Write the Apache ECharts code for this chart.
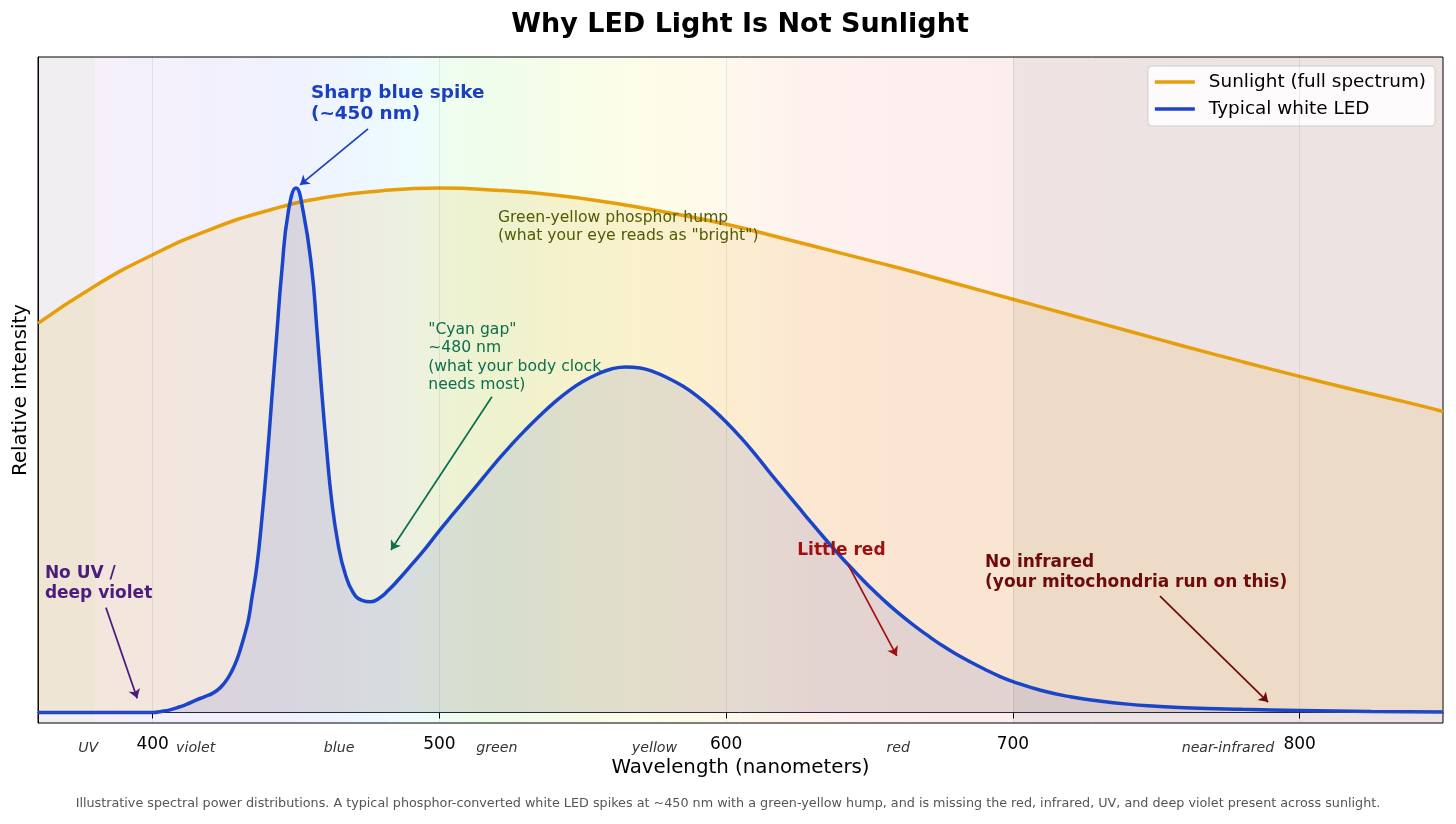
<!DOCTYPE html>
<html>
<head>
<meta charset="utf-8">
<title>Why LED Light Is Not Sunlight</title>
<script src="https://cdn.jsdelivr.net/npm/echarts@6/dist/echarts.min.js"></script>
<style>
  html, body { margin: 0; padding: 0; background: #fff; }
  #main { width: 1456px; height: 824px; }
</style>
</head>
<body>
<div id="main"></div>
<script>
// Values (wavelength in nm, relative intensity)
var sunWavelengths = [360, 380, 400, 420, 440, 460, 480, 500, 520, 540, 560, 580, 600,
  620, 640, 660, 680, 700, 720, 740, 760, 780, 800, 820, 840, 850];
var sunIntensity = [0.742, 0.814, 0.873, 0.921, 0.957, 0.982, 0.995, 1.0, 0.996, 0.987, 0.972,
  0.953, 0.931, 0.904, 0.876, 0.848, 0.818, 0.788, 0.758, 0.728, 0.698, 0.669, 0.641, 0.614,
  0.588, 0.574];

var ledWavelengths = [360, 380, 400, 403, 406, 409.5, 412, 415.3, 418, 421, 423.5, 425.8, 427.5,
  429.3, 431, 432.2, 433.5, 434.5, 436.3, 438, 439.8, 441.5, 443.3, 445, 447.3, 450, 452.5, 455.5,
  457.2, 458.9, 460.7, 462.4, 464.7, 467.1, 470, 473, 476, 479, 482, 486, 490, 495, 500, 505, 510,
  515, 520, 525, 530, 535, 540, 545, 550, 555, 560, 565, 570, 575, 580, 585, 590, 595, 600, 605,
  610, 615, 620, 625, 630, 635, 640, 645, 650, 655, 660, 665, 670, 675, 680, 685, 690, 695, 700,
  710, 720, 730, 740, 750, 760, 780, 800, 825, 850];
var ledIntensity = [0, 0, 0, 0.002, 0.005, 0.011, 0.016, 0.024, 0.030, 0.037, 0.047, 0.062, 0.078,
  0.100, 0.128, 0.151, 0.180, 0.215, 0.278, 0.365, 0.475, 0.596, 0.723, 0.840, 0.955, 1.0, 0.955,
  0.845, 0.735, 0.615, 0.500, 0.405, 0.320, 0.265, 0.228, 0.214, 0.211, 0.218, 0.232, 0.255, 0.280,
  0.312, 0.347, 0.380, 0.413, 0.446, 0.479, 0.510, 0.539, 0.566, 0.591, 0.613, 0.631, 0.645, 0.655,
  0.659, 0.657, 0.649, 0.637, 0.622, 0.603, 0.580, 0.554, 0.525, 0.493, 0.459, 0.426, 0.393, 0.360,
  0.328, 0.297, 0.268, 0.240, 0.214, 0.190, 0.168, 0.148, 0.129, 0.112, 0.097, 0.083, 0.070, 0.059,
  0.042, 0.030, 0.022, 0.016, 0.012, 0.009, 0.006, 0.004, 0.002, 0.001];

var tickWavelengths = [400, 500, 600, 700, 800];
var bandCenters = [377.5, 415, 465, 520, 575, 660, 775];
var bandNames = ['UV', 'violet', 'blue', 'green', 'yellow', 'red', 'near-infrared'];

var X_MIN = 360;
var X_MAX = 850;
var FONT = 'DejaVu Sans';
var myChart;

/**
 * @name toPairs
 * @desc zip two arrays into [x, y] points
 * @return {array}
 */
function toPairs(xs, ys) {
  var i, out = [];
  for (i = 0; i < xs.length; i++) {
    out.push([xs[i], ys[i]]);
  }
  return out;
}

/**
 * @name spectrumBackground
 * @desc horizontal gradient of pale spectral colours behind the plot
 * @return {object}
 */
function spectrumBackground() {
  var span = X_MAX - X_MIN;
  var stops = [
    [360, '#f1eef2'], [380, '#f1eef2'], [380, '#f5f0fa'], [420, '#f3f0fd'],
    [450, '#f0f2ff'], [470, '#eef6ff'], [490, '#eefcff'], [505, '#effef0'],
    [520, '#f0fdea'], [550, '#f8fde8'], [570, '#fdfde8'], [590, '#fffaea'],
    [610, '#fff6ee'], [630, '#fff1ee'], [660, '#fdefee'], [700, '#fdeeee'],
    [700, '#efe3e3'], [850, '#ede3e3']
  ];
  return {
    type: 'linear', x: 0, y: 0, x2: 1, y2: 0,
    colorStops: stops.map(function (s) {
      return { offset: (s[0] - X_MIN) / span, color: s[1] };
    })
  };
}

/**
 * @name note
 * @desc text annotation anchored (top-left) at a data coordinate
 */
function note(coord, text, color, size, weight, lineHeight) {
  return {
    coord: coord,
    symbolSize: 0,
    label: {
      show: true,
      formatter: text,
      position: 'inside',
      align: 'left',
      verticalAlign: 'top',
      color: color,
      fontSize: size,
      fontWeight: weight,
      lineHeight: lineHeight,
      fontFamily: FONT
    }
  };
}

/**
 * @name arrow
 * @desc arrow from one data coordinate to another
 */
function arrow(from, to, color) {
  return [
    { coord: from, lineStyle: { color: color, width: 1.7, type: 'solid' } },
    { coord: to }
  ];
}

/**
 * @name paint
 * @desc build the chart
 */
function paint() {
  myChart = echarts.init(document.getElementById('main'));

  var option = {
    animation: false,
    backgroundColor: '#fff',
    textStyle: { fontFamily: FONT },
    title: [
      {
        text: 'Why LED Light Is Not Sunlight',
        left: 740,
        top: 11,
        padding: 0,
        textAlign: 'center',
        textStyle: { fontSize: 27, fontWeight: 'bold', color: '#000', fontFamily: FONT }
      },
      {
        text: 'Illustrative spectral power distributions. A typical phosphor-converted white LED spikes at ~450 nm with a green-yellow hump, and is missing the red, infrared, UV, and deep violet present across sunlight.',
        left: 728,
        top: 797,
        padding: 0,
        textAlign: 'center',
        textStyle: { fontSize: 12.75, fontWeight: 'normal', color: '#555', fontFamily: FONT }
      }
    ],
    legend: {
      data: ['Sunlight (full spectrum)', 'Typical white LED'],
      orient: 'vertical',
      right: 21,
      top: 66,
      icon: 'rect',
      itemWidth: 40,
      itemHeight: 3.5,
      itemGap: 9,
      padding: [7, 9, 8, 7],
      selectedMode: false,
      backgroundColor: 'rgba(255,255,255,0.85)',
      borderColor: '#cfcfcf',
      borderWidth: 1,
      borderRadius: 4,
      textStyle: { fontSize: 18.4, color: '#000', fontFamily: FONT, padding: [0, 0, 0, 9] }
    },
    grid: {
      left: 38,
      right: 13,
      top: 57,
      bottom: 101,
      show: true,
      borderColor: '#000',
      borderWidth: 1,
      backgroundColor: spectrumBackground()
    },
    xAxis: [
      {
        type: 'value',
        min: X_MIN,
        max: X_MAX,
        name: 'Wavelength (nanometers)',
        nameLocation: 'middle',
        nameGap: 35,
        nameTextStyle: { fontSize: 19.8, color: '#000', fontFamily: FONT },
        axisLine: { show: true, lineStyle: { color: '#000', width: 1 } },
        axisTick: { show: true, length: 6, lineStyle: { color: '#000' }, customValues: tickWavelengths },
        axisLabel: { fontSize: 17, color: '#000', margin: 13, customValues: tickWavelengths, fontFamily: FONT },
        splitLine: { show: false }
      },
      {
        type: 'value',
        min: X_MIN,
        max: X_MAX,
        position: 'bottom',
        axisLine: { show: false },
        axisTick: { show: false },
        splitLine: { show: false },
        axisLabel: {
          customValues: bandCenters,
          margin: 18,
          fontSize: 14.2,
          fontStyle: 'italic',
          color: '#333',
          fontFamily: FONT,
          formatter: function (v) {
            var idx = bandCenters.indexOf(v);
            return idx >= 0 ? bandNames[idx] : '';
          }
        }
      }
    ],
    yAxis: {
      type: 'value',
      min: -0.02,
      max: 1.25,
      name: 'Relative intensity',
      nameLocation: 'middle',
      nameGap: 7,
      nameTextStyle: { fontSize: 19.8, color: '#000', fontFamily: FONT },
      axisLine: { show: true, lineStyle: { color: '#000' } },
      axisTick: { show: false },
      axisLabel: { show: false },
      splitLine: { show: false }
    },
    series: [
      {
        name: 'Sunlight (full spectrum)',
        type: 'line',
        smooth: 0.5,
        showSymbol: false,
        symbol: 'none',
        color: '#e69f0a',
        lineStyle: { color: '#e69f0a', width: 3.5 },
        itemStyle: { color: '#e69f0a' },
        areaStyle: { color: 'rgba(232,160,0,0.17)' },
        silent: true,
        data: toPairs(sunWavelengths, sunIntensity),
        markLine: {
          silent: true,
          symbol: 'none',
          label: { show: false },
          lineStyle: { color: 'rgba(0,0,0,0.07)', width: 1, type: 'solid' },
          data: tickWavelengths.map(function (w) { return { xAxis: w }; })
        },
        z: 2
      },
      {
        name: 'Typical white LED',
        type: 'line',
        smooth: 0.5,
        showSymbol: false,
        symbol: 'none',
        color: '#1b45c9',
        lineStyle: { color: '#1b45c9', width: 3.5 },
        itemStyle: { color: '#1b45c9' },
        areaStyle: { color: 'rgba(40,70,200,0.16)' },
        silent: true,
        data: toPairs(ledWavelengths, ledIntensity),
        markLine: {
          silent: true,
          symbol: 'none',
          label: { show: false },
          lineStyle: { color: 'rgba(80,90,150,0.35)', width: 1, type: 'solid' },
          data: [{ yAxis: 0 }]
        },
        z: 3
      },
      {
        name: 'notes',
        type: 'scatter',
        silent: true,
        data: [],
        z: 5,
        markLine: {
          silent: true,
          symbol: ['none', 'arrow'],
          symbolSize: 9,
          label: { show: false },
          data: [
            arrow([475.1, 1.113], [451.4, 1.006], '#1a3fc0'),
            arrow([518.3, 0.602], [483.1, 0.31], '#0b6e4f'),
            arrow([383.7, 0.2], [394.6, 0.027], '#4b1c7d'),
            arrow([642.6, 0.281], [659.5, 0.108], '#a10f0f'),
            arrow([751.3, 0.222], [789, 0.02], '#6e0a0a')
          ]
        },
        markPoint: {
          silent: true,
          symbol: 'circle',
          data: [
            note([455.2, 1.2023], 'Sharp blue spike\n(~450 nm)', '#1a3fc0', 18.4, 'bold', 21.7),
            note([520.4, 0.9594], 'Green-yellow phosphor hump\n(what your eye reads as "bright")', '#4d5c05', 15.6, 'normal', 18),
            note([496.1, 0.7469], '"Cyan gap"\n~480 nm\n(what your body clock\nneeds most)', '#0b6e4f', 15.6, 'normal', 18.3),
            note([362.4, 0.2828], 'No UV /\ndeep violet', '#4b1c7d', 17, 'bold', 19.5),
            note([624.8, 0.3278], 'Little red', '#a10f0f', 17, 'bold', 20),
            note([690.3, 0.3037], 'No infrared\n(your mitochondria run on this)', '#6e0a0a', 17, 'bold', 19.5)
          ]
        }
      }
    ]
  };

  myChart.setOption(option);
}

paint();
</script>
</body>
</html>
